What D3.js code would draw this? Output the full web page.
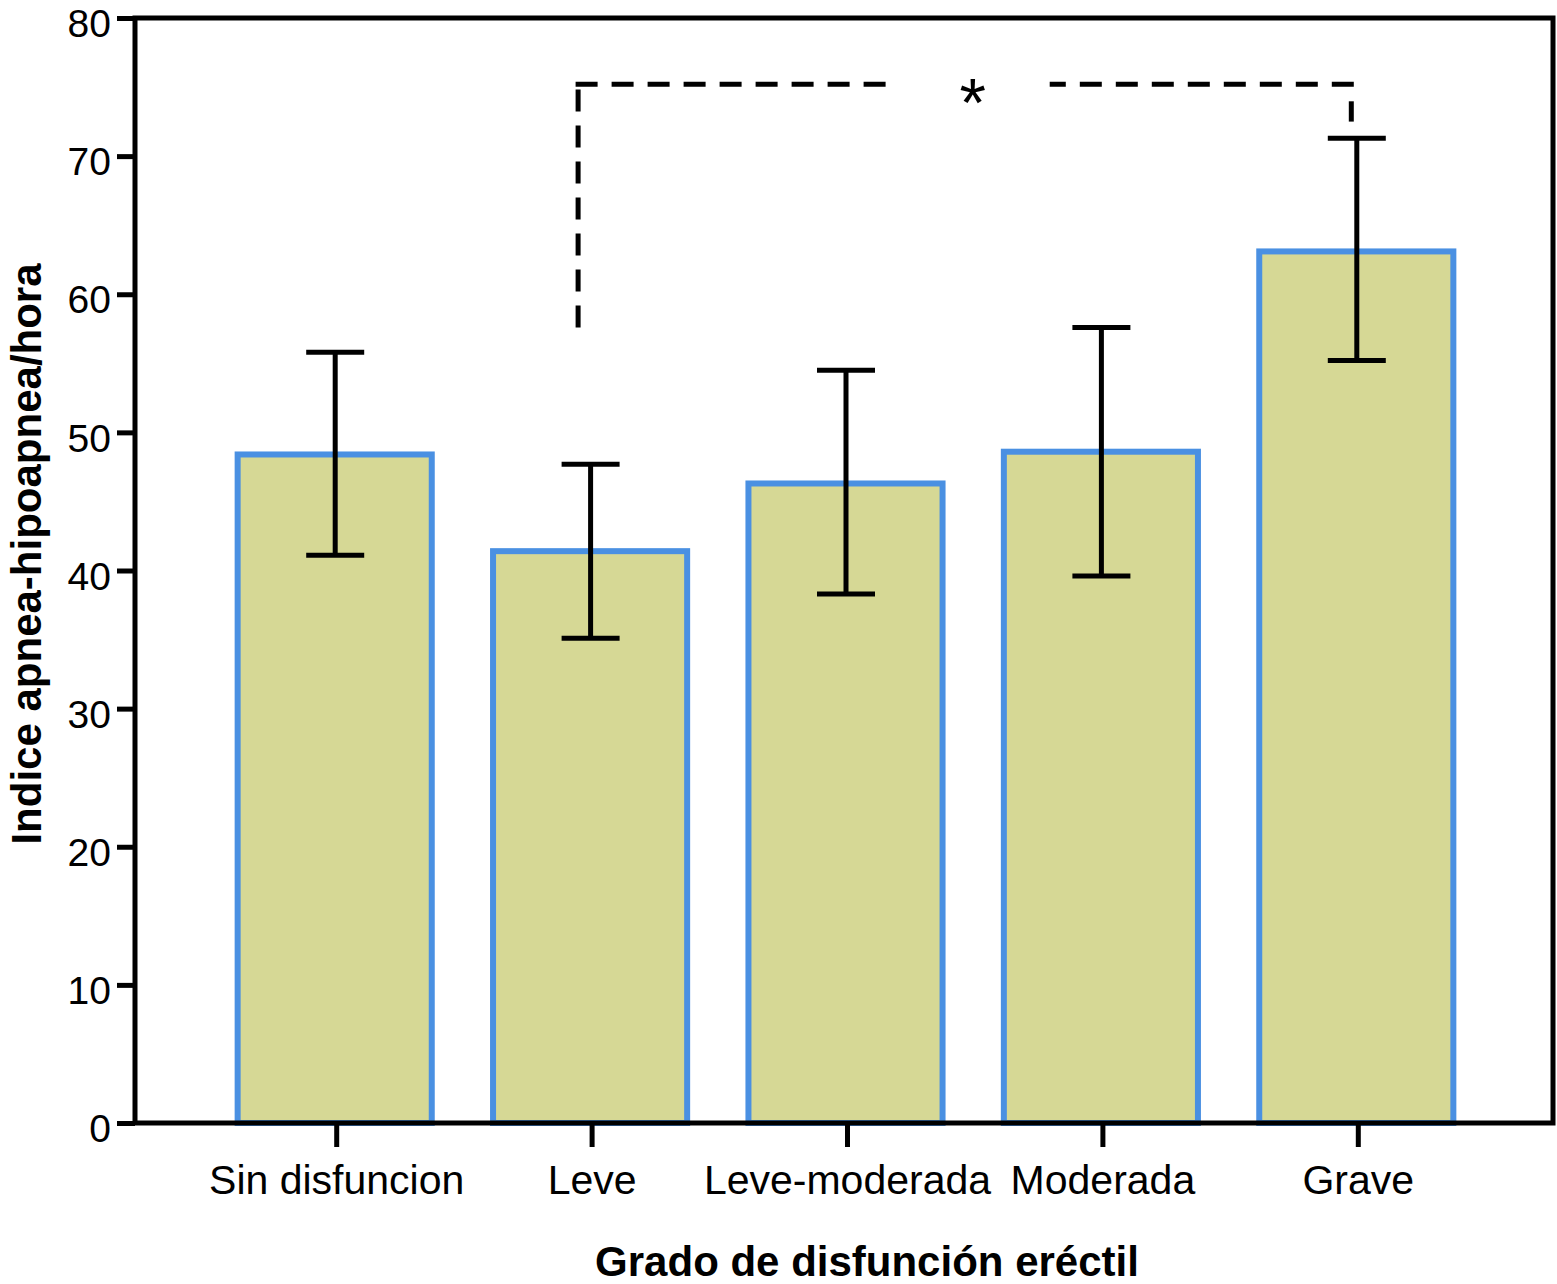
<!DOCTYPE html>
<html>
<head>
<meta charset="utf-8">
<script src="https://cdn.jsdelivr.net/npm/d3@7"></script>
<style>
  body { margin: 0; background: #fff; }
  text { font-family: "Liberation Sans", Arial, Helvetica, sans-serif; }
</style>
</head>
<body>
<svg width="1557" height="1284"></svg>
<script>
var categories = ['Sin disfuncion', 'Leve', 'Leve-moderada', 'Moderada', 'Grave'];
var means = [48.4, 41.4, 46.3, 48.6, 63.1];
var lower = [41.1, 35.1, 38.3, 39.6, 55.2];
var upper = [55.8, 47.7, 54.5, 57.6, 71.3];
var yTicks = [0, 10, 20, 30, 40, 50, 60, 70, 80];

// significance bracket: Leve vs Grave
var bracketFrom = 'Leve';
var bracketTo = 'Grave';
var bracketLevel = 75.2;
var bracketLeftEnd = 57.6;
var bracketRightEnd = 72.5;
var bracketLabel = '*';

var margin = {top: 18, left: 135, right: 4, bottom: 161};
var width = 1557 - margin.left - margin.right;
var height = 1284 - margin.top - margin.bottom;

var svg = d3.select('svg');
var g = svg.append('g')
   .attr('transform', 'translate(' + margin.left + ',' + margin.top + ')');

var x = d3.scaleBand()
   .domain(categories)
   .range([72, 1349])
   .paddingInner(0.24)
   .paddingOuter(0.12);

var y = d3.scaleLinear()
   .domain([0, 80])
   .range([height, 0]);

var data = categories.map(function (c, i) {
  return {cat: c, mean: means[i], lo: lower[i], hi: upper[i]};
});

// bars
g.selectAll('rect.bar')
   .data(data)
   .enter()
   .append('rect')
   .attr('class', 'bar')
   .attr('x', function (d) { return x(d.cat); })
   .attr('y', function (d) { return y(d.mean); })
   .attr('width', x.bandwidth())
   .attr('height', function (d) { return y(0) - y(d.mean); })
   .attr('fill', '#d6d895')
   .attr('stroke', '#4a90e2')
   .attr('stroke-width', 6);

// error bars
var capW = 58;
data.forEach(function (d) {
  var cx = x(d.cat) + x.bandwidth() / 2 + 0.5;
  g.append('line')
     .attr('x1', cx).attr('x2', cx)
     .attr('y1', y(d.hi)).attr('y2', y(d.lo))
     .attr('stroke', '#000').attr('stroke-width', 5);
  [d.hi, d.lo].forEach(function (v) {
    g.append('line')
       .attr('x1', cx - capW / 2).attr('x2', cx + capW / 2)
       .attr('y1', y(v)).attr('y2', y(v))
       .attr('stroke', '#000').attr('stroke-width', 5);
  });
});

// y axis
var yAxis = d3.axisLeft(y)
   .tickValues(yTicks)
   .tickSize(18)
   .tickPadding(6);
var ya = g.append('g').call(yAxis);
ya.select('.domain').remove();
ya.selectAll('line').attr('stroke', '#000').attr('stroke-width', 5);
ya.selectAll('text')
   .attr('font-size', 39)
   .attr('fill', '#000')
   .attr('dy', '0.48em');

// x axis
var xa = g.append('g')
   .attr('transform', 'translate(0,' + height + ')')
   .call(d3.axisBottom(x).tickSize(24).tickPadding(18));
xa.select('.domain').remove();
xa.selectAll('.tick').attr('transform', function (d) {
  return 'translate(' + (x(d) + x.bandwidth() / 2 + 2) + ',0)';
});
xa.selectAll('line').attr('stroke', '#000').attr('stroke-width', 5);
xa.selectAll('text')
   .attr('font-size', 41)
   .attr('fill', '#000')
   .attr('dy', '0.71em');

// frame
g.append('rect')
   .attr('x', 0).attr('y', 0)
   .attr('width', width).attr('height', height)
   .attr('fill', 'none')
   .attr('stroke', '#000')
   .attr('stroke-width', 5);

// significance bracket
var bx1 = x(bracketFrom) + x.bandwidth() / 2 - 12;
var bx2 = x(bracketTo) + x.bandwidth() / 2 - 5;
var by = y(bracketLevel);
var mid = (bx1 + bx2) / 2;
var dash = '22,14';
function dashed(x1, y1, x2, y2) {
  g.append('line')
     .attr('x1', x1).attr('y1', y1)
     .attr('x2', x2).attr('y2', y2)
     .attr('stroke', '#000')
     .attr('stroke-width', 5)
     .attr('stroke-dasharray', dash);
}
dashed(bx1, y(bracketLeftEnd), bx1, by - 2.5);
dashed(bx1 - 2.5, by, mid - 72, by);
dashed(bx2 + 2.5, by, mid + 85, by);
dashed(bx2, by + 17, bx2, y(bracketRightEnd));
g.append('text')
   .attr('x', mid + 8)
   .attr('y', by + 42)
   .attr('text-anchor', 'middle')
   .attr('font-family', '"Liberation Serif", "Times New Roman", serif')
   .attr('font-size', 68)
   .text(bracketLabel);

// axis titles
svg.append('text')
   .attr('transform', 'translate(41,554) rotate(-90)')
   .attr('text-anchor', 'middle')
   .attr('font-size', 42)
   .attr('font-weight', 'bold')
   .text('Indice apnea-hipoapnea/hora');

svg.append('text')
   .attr('x', 867)
   .attr('y', 1276)
   .attr('text-anchor', 'middle')
   .attr('font-size', 42)
   .attr('font-weight', 'bold')
   .text('Grado de disfunción eréctil');
</script>
</body>
</html>
